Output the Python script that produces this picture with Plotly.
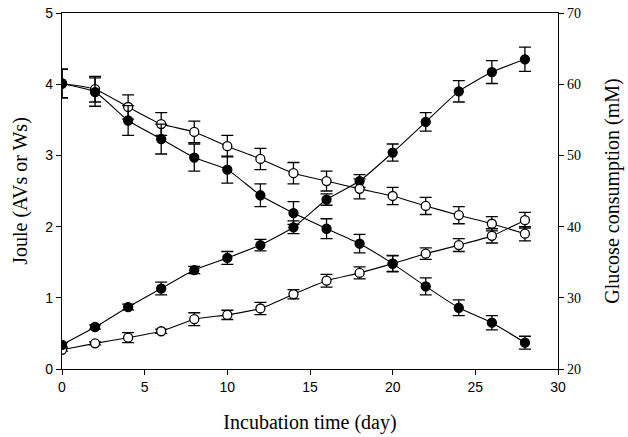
import plotly.graph_objects as go

days = [0, 2, 4, 6, 8, 10, 12, 14, 16, 18, 20, 22, 24, 26, 28]

# Joule (left axis) - ascending series
joule_filled = [0.34, 0.59, 0.87, 1.13, 1.39, 1.56, 1.74, 1.99, 2.38, 2.64, 3.04, 3.47, 3.90, 4.17, 4.35]
joule_filled_err = [0.03, 0.03, 0.04, 0.09, 0.05, 0.09, 0.08, 0.09, 0.08, 0.09, 0.12, 0.13, 0.15, 0.16, 0.17]
joule_open = [0.27, 0.36, 0.44, 0.53, 0.70, 0.76, 0.85, 1.05, 1.24, 1.35, 1.48, 1.62, 1.74, 1.87, 2.09]
joule_open_err = [0.02, 0.02, 0.07, 0.03, 0.09, 0.065, 0.085, 0.065, 0.09, 0.085, 0.11, 0.08, 0.09, 0.10, 0.11]

# Glucose (right axis, mM) - descending series
glu_filled = [60.1, 58.9, 54.9, 52.3, 49.7, 48.0, 44.4, 41.9, 39.7, 37.6, 34.8, 31.6, 28.6, 26.5, 23.7]
glu_filled_err = [2.0, 2.0, 2.1, 2.1, 1.9, 1.9, 1.6, 1.6, 1.4, 1.3, 1.15, 1.2, 1.1, 1.0, 0.9]
glu_open = [60.1, 59.3, 56.8, 54.4, 53.3, 51.3, 49.5, 47.5, 46.4, 45.3, 44.3, 42.9, 41.6, 40.4, 39.0]
glu_open_err = [2.0, 1.8, 1.7, 1.6, 1.5, 1.5, 1.5, 1.5, 1.4, 1.4, 1.2, 1.2, 1.2, 1.0, 1.0]

fig = go.Figure()

def add(y, err, fill, axis):
    fig.add_trace(go.Scatter(
        x=days, y=y, yaxis=axis, mode="lines+markers",
        line=dict(color="black", width=1.1, shape="spline", smoothing=0.5),
        marker=dict(size=9, color=fill, line=dict(color="black", width=1.3)),
        error_y=dict(type="data", array=err, visible=True, color="black", thickness=1.3, width=6),
        showlegend=False, hoverinfo="skip",
    ))

add(glu_open, glu_open_err, "white", "y2")
add(glu_filled, glu_filled_err, "black", "y2")
add(joule_open, joule_open_err, "white", "y")
add(joule_filled, joule_filled_err, "black", "y")

sans = dict(family="Liberation Sans, Arial", size=14, color="black")
serif = dict(family="Liberation Serif, Times New Roman", size=20, color="black")

fig.update_layout(
    width=628, height=437,
    margin=dict(l=62, r=70, t=13, b=68, autoexpand=False),
    paper_bgcolor="white", plot_bgcolor="white",
    xaxis=dict(range=[0, 30], tickvals=[0, 5, 10, 15, 20, 25, 30], ticks="outside", ticklen=5,
               tickcolor="black", showline=True, linecolor="black", linewidth=1.3, mirror=True,
               showgrid=False, zeroline=False, tickfont=sans, automargin=False,
               ticklabeloverflow="allow",
               title=dict(text="Incubation time (day)", font=serif, standoff=21)),
    yaxis=dict(range=[0, 5], tickvals=[0, 1, 2, 3, 4, 5], ticks="outside", ticklen=5,
               tickcolor="black", showline=True, linecolor="black", linewidth=1.3,
               showgrid=False, zeroline=False, tickfont=sans, automargin=False,
               ticklabeloverflow="allow",
               title=dict(text="Joule (AVs or Ws)", font=serif, standoff=12)),
    yaxis2=dict(range=[20, 70], tickvals=[20, 30, 40, 50, 60, 70], ticks="outside", ticklen=5,
                tickcolor="black", showline=True, linecolor="black", linewidth=1.3,
                overlaying="y", side="right", showgrid=False, zeroline=False, automargin=False,
                ticklabeloverflow="allow",
                tickfont=dict(family="Liberation Serif, Times New Roman", size=14, color="black"),
                title=dict(text="Glucose consumption (mM)", font=serif, standoff=25)),
)

# remove the browser's default 8px page margin so the figure fills the window exactly
fig.write_html("out.html", config={"displayModeBar": False},
               post_script="document.body.style.margin='0';document.body.style.overflow='hidden';")
